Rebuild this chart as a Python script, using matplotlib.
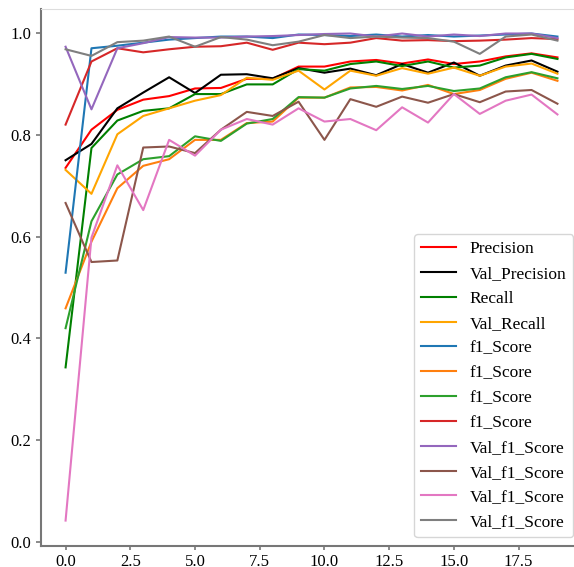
import numpy as np
import matplotlib
matplotlib.use("Agg")
import matplotlib.pyplot as plt

plt.rcParams['font.family'] = ['Liberation Serif', 'DejaVu Serif']

epochs = np.arange(20)

precision = [0.735, 0.81, 0.849, 0.869, 0.876, 0.891, 0.892, 0.91, 0.91, 0.934,
             0.934, 0.944, 0.947, 0.94, 0.948, 0.939, 0.944, 0.954, 0.96, 0.952]
val_precision = [0.75, 0.782, 0.852, 0.883, 0.913, 0.882, 0.918, 0.919, 0.911, 0.931,
                 0.922, 0.93, 0.917, 0.939, 0.922, 0.942, 0.916, 0.936, 0.946, 0.924]
recall = [0.343, 0.774, 0.828, 0.847, 0.852, 0.88, 0.88, 0.899, 0.899, 0.929,
          0.926, 0.939, 0.944, 0.935, 0.944, 0.932, 0.936, 0.952, 0.959, 0.949]
val_recall = [0.731, 0.684, 0.801, 0.837, 0.852, 0.867, 0.878, 0.912, 0.908, 0.926,
              0.889, 0.926, 0.916, 0.931, 0.92, 0.932, 0.916, 0.934, 0.94, 0.92]

f1_score = [
    [0.529, 0.97, 0.975, 0.981, 0.987, 0.99, 0.993, 0.993, 0.99, 0.997,
     0.996, 0.994, 0.997, 0.993, 0.996, 0.993, 0.995, 0.997, 0.999, 0.993],
    [0.459, 0.59, 0.695, 0.739, 0.752, 0.79, 0.79, 0.823, 0.826, 0.873,
     0.873, 0.893, 0.894, 0.887, 0.898, 0.88, 0.888, 0.91, 0.922, 0.906],
    [0.42, 0.63, 0.722, 0.752, 0.758, 0.797, 0.788, 0.822, 0.831, 0.874,
     0.873, 0.891, 0.896, 0.89, 0.896, 0.886, 0.891, 0.913, 0.923, 0.911],
    [0.82, 0.944, 0.97, 0.962, 0.968, 0.973, 0.974, 0.981, 0.967, 0.981,
     0.978, 0.981, 0.99, 0.985, 0.986, 0.984, 0.985, 0.987, 0.99, 0.988],
]
val_f1_score = [
    [0.973, 0.85, 0.97, 0.98, 0.992, 0.991, 0.991, 0.993, 0.994, 0.996,
     0.998, 0.999, 0.993, 0.999, 0.993, 0.997, 0.994, 0.999, 0.999, 0.99],
    [0.666, 0.55, 0.553, 0.775, 0.777, 0.764, 0.81, 0.845, 0.837, 0.865,
     0.79, 0.87, 0.855, 0.875, 0.863, 0.88, 0.864, 0.885, 0.888, 0.861],
    [0.042, 0.598, 0.74, 0.652, 0.79, 0.759, 0.81, 0.831, 0.82, 0.852,
     0.826, 0.831, 0.809, 0.854, 0.824, 0.88, 0.841, 0.867, 0.879, 0.84],
    [0.968, 0.955, 0.982, 0.985, 0.993, 0.973, 0.992, 0.987, 0.976, 0.983,
     0.996, 0.99, 0.993, 0.991, 0.99, 0.983, 0.959, 0.993, 0.997, 0.985],
]

fig = plt.figure(figsize=(5.74, 5.67), dpi=100)
ax = fig.add_axes([0.0714, 0.037, 0.9426, 0.947])

ax.plot(epochs, precision, color='r', lw=1.5, label='Precision')
ax.plot(epochs, val_precision, color='k', lw=1.5, label='Val_Precision')
ax.plot(epochs, recall, color='g', lw=1.5, label='Recall')
ax.plot(epochs, val_recall, color='orange', lw=1.5, label='Val_Recall')
for k, s in enumerate(f1_score):
    ax.plot(epochs, s, color='C%d' % k, lw=1.5, label='f1_Score')
for k, s in enumerate(val_f1_score):
    ax.plot(epochs, s, color='C%d' % (k + 4), lw=1.5, label='Val_f1_Score')

ax.set_xlim(-0.95, 19.95)
ax.set_ylim(-0.008, 1.047)
ax.set_xticks([0.0, 2.5, 5.0, 7.5, 10.0, 12.5, 15.0, 17.5])
ax.set_yticks([0.0, 0.2, 0.4, 0.6, 0.8, 1.0])

for side in ['left', 'bottom']:
    ax.spines[side].set_color('#777777')
    ax.spines[side].set_linewidth(1.5)
ax.spines['top'].set_color('#dddddd')
ax.spines['top'].set_linewidth(0.8)
ax.spines['right'].set_visible(False)
ax.tick_params(colors='#777777', labelcolor='black', labelsize=12, width=1.2)
ax.tick_params(axis='x', length=3, pad=2.5)

ax.legend(loc='lower right', fontsize=12.5)

fig.savefig('out.png', dpi=100)
